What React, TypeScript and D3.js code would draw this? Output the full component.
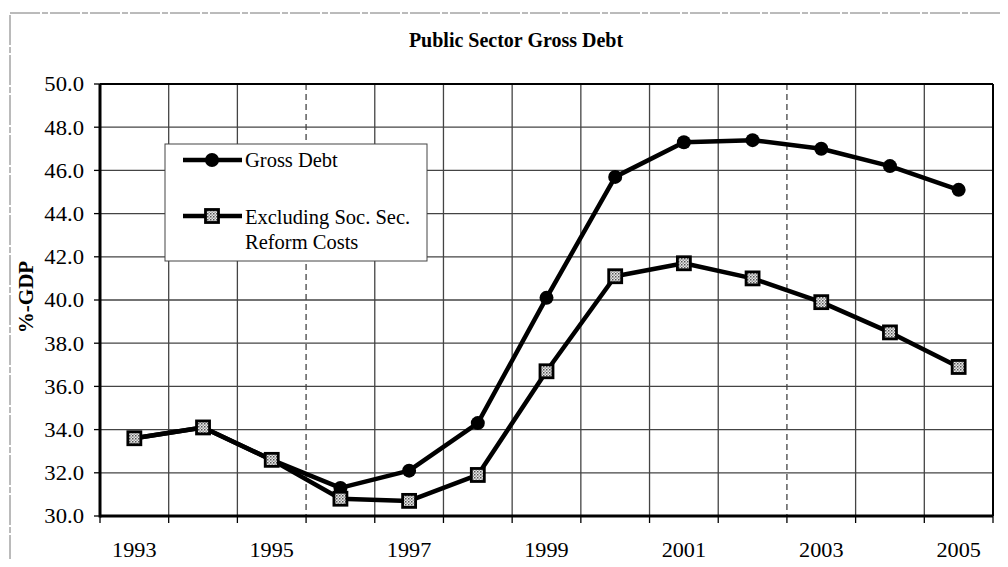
import React from 'react';
import * as d3 from 'd3';

const years = ['1993', '1994', '1995', '1996', '1997', '1998', '1999', '2000', '2001', '2002', '2003', '2004', '2005'];
const grossDebt = [33.6, 34.1, 32.6, 31.3, 32.1, 34.3, 40.1, 45.7, 47.3, 47.4, 47.0, 46.2, 45.1];
const exclSocSec = [33.6, 34.1, 32.6, 30.8, 30.7, 31.9, 36.7, 41.1, 41.7, 41.0, 39.9, 38.5, 36.9];
const yTicks = [30, 32, 34, 36, 38, 40, 42, 44, 46, 48, 50];
const xLabels = ['1993', '1995', '1997', '1999', '2001', '2003', '2005'];

const font = '"Liberation Serif", "Times New Roman", serif';

export default function App() {
  const left = 100, right = 993, top = 84, bottom = 516;

  const x = d3.scaleBand<string>().domain(years).range([left, right]).padding(0);
  const y = d3.scaleLinear().domain([30, 50]).range([bottom, top]);
  const cx = (yr: string) => (x(yr) as number) + x.bandwidth() / 2;

  const line = d3.line<number>()
    .x((_, i) => cx(years[i]))
    .y(d => y(d));

  // category boundaries for vertical grid and ticks
  const bounds = d3.range(years.length + 1).map(i => left + i * x.bandwidth());

  return (
    <div style={{ margin: -8 }}>
      <svg width={1008} height={567} style={{ display: 'block', background: '#fff' }}>
        <defs>
          <pattern id="chk" width="3" height="3" patternUnits="userSpaceOnUse">
            <rect width="3" height="3" fill="#e8e8e8" />
            <rect width="1.5" height="1.5" fill="#555" />
            <rect x="1.5" y="1.5" width="1.5" height="1.5" fill="#999" />
          </pattern>
        </defs>

        {/* outer frame */}
        <rect x={10} y={13} width={996} height={600} fill="none" stroke="#777" strokeWidth={1} strokeDasharray="30 2 6 2" />

        <text x={516} y={47} textAnchor="middle" fontFamily={font} fontWeight="bold" fontSize={20}>
          Public Sector Gross Debt
        </text>

        {/* horizontal grid */}
        {yTicks.map(t => (
          <line key={'h' + t} x1={left} x2={right} y1={y(t)} y2={y(t)} stroke="#444" strokeWidth={1.3} />
        ))}
        {/* vertical grid */}
        {bounds.slice(1, -1).map((b, i) => (
          <line key={'v' + i} x1={b} x2={b} y1={top} y2={bottom} stroke="#444" strokeWidth={1.3}
            strokeDasharray={i === 2 || i === 9 ? '6 4' : undefined} />
        ))}

        {/* plot border */}
        <line x1={left} x2={right} y1={top} y2={top} stroke="#000" strokeWidth={2} />
        <line x1={right} x2={right} y1={top} y2={bottom} stroke="#000" strokeWidth={2} />
        <line x1={left} x2={left} y1={top} y2={bottom + 1.5} stroke="#000" strokeWidth={3} />
        <line x1={left} x2={right} y1={bottom} y2={bottom} stroke="#000" strokeWidth={3} />

        {/* y axis ticks */}
        {yTicks.map(t => (
          <g key={'yt' + t}>
            <line x1={left - 6} x2={left} y1={y(t)} y2={y(t)} stroke="#000" strokeWidth={1.3} />
            <text x={84} y={y(t)} dy="0.35em" textAnchor="end" fontFamily={font} fontSize={21}
              transform={`translate(84,0) scale(1.08,1) translate(-84,0)`}>
              {t.toFixed(1)}
            </text>
          </g>
        ))}

        {/* x axis ticks */}
        {bounds.map((b, i) => (
          <line key={'xt' + i} x1={b} x2={b} y1={bottom} y2={bottom + 7} stroke="#000" strokeWidth={1.3} />
        ))}
        {xLabels.map(l => (
          <text key={'xl' + l} x={cx(l)} y={557} textAnchor="middle" fontFamily={font} fontSize={21}
            transform={`translate(${cx(l)},0) scale(1.06,1) translate(${-cx(l)},0)`}>
            {l}
          </text>
        ))}

        <text transform={`translate(33,297) rotate(-90)`} textAnchor="middle" fontFamily={font}
          fontWeight="bold" fontSize={21}>
          %-GDP
        </text>

        {/* series */}
        <path d={line(grossDebt) || ''} fill="none" stroke="#000" strokeWidth={4.5} strokeLinejoin="round" />
        <path d={line(exclSocSec) || ''} fill="none" stroke="#000" strokeWidth={4.5} strokeLinejoin="round" />
        {grossDebt.map((v, i) => (
          <circle key={'g' + i} cx={cx(years[i])} cy={y(v)} r={7} fill="#000" />
        ))}
        {exclSocSec.map((v, i) => (
          <rect key={'e' + i} x={cx(years[i]) - 6.5} y={y(v) - 6.5} width={13} height={13}
            fill="url(#chk)" stroke="#000" strokeWidth={2.8} />
        ))}

        {/* legend */}
        <rect x={165} y={144} width={262} height={117} fill="#fff" stroke="#444" strokeWidth={1} />
        <line x1={183} x2={242} y1={160} y2={160} stroke="#000" strokeWidth={4.5} />
        <circle cx={212} cy={160} r={7} fill="#000" />
        <text x={245} y={167} fontFamily={font} fontSize={20.5}>Gross Debt</text>
        <line x1={183} x2={242} y1={216} y2={216} stroke="#000" strokeWidth={4.5} />
        <rect x={205.5} y={209.5} width={13} height={13} fill="url(#chk)" stroke="#000" strokeWidth={2.8} />
        <text x={245} y={224} fontFamily={font} fontSize={20.5}>Excluding Soc. Sec.</text>
        <text x={245} y={249} fontFamily={font} fontSize={20.5}>Reform Costs</text>
      </svg>
    </div>
  );
}
